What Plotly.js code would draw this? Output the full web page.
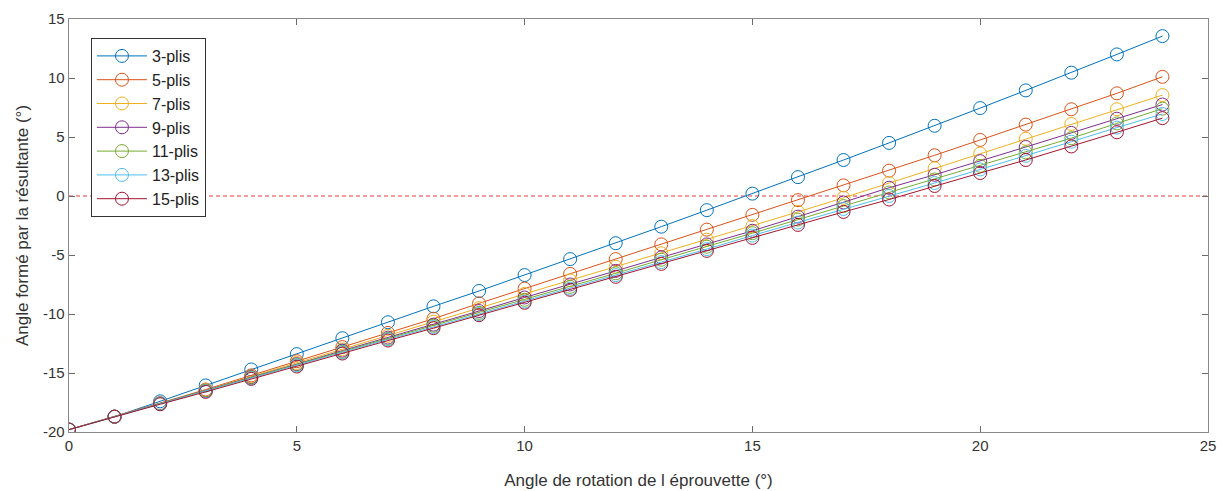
<!DOCTYPE html>
<html>
<head>
<meta charset="utf-8">
<script src="https://cdn.plot.ly/plotly-3.0.1.min.js"></script>
<style>html,body{margin:0;padding:0;background:#fff;}#chart{width:1228px;height:491px;}</style>
</head>
<body>
<div id="chart"></div>
<script>
const xAngles = [0,1,2,3,4,5,6,7,8,9,10,11,12,13,14,15,16,17,18,19,20,21,22,23,24];
const seriesNames = ['3-plis','5-plis','7-plis','9-plis','11-plis','13-plis','15-plis'];
const plis3  = [-19.8,-18.7,-17.4,-16.05,-14.7,-13.4,-12.05,-10.7,-9.35,-8.05,-6.7,-5.35,-4.0,-2.6,-1.2,0.2,1.6,3.05,4.5,5.95,7.45,8.95,10.45,12.0,13.55];
const plis5  = [-19.8,-18.7,-17.55,-16.4,-15.2,-14.0,-12.8,-11.6,-10.4,-9.1,-7.85,-6.6,-5.35,-4.1,-2.85,-1.6,-0.35,0.9,2.15,3.45,4.75,6.05,7.35,8.7,10.1];
const plis7  = [-19.8,-18.7,-17.6,-16.45,-15.3,-14.15,-13.0,-11.85,-10.65,-9.5,-8.3,-7.15,-6.0,-4.85,-3.7,-2.55,-1.35,-0.15,1.1,2.35,3.6,4.85,6.1,7.35,8.55];
const plis9  = [-19.8,-18.7,-17.6,-16.5,-15.35,-14.25,-13.1,-12.0,-10.9,-9.75,-8.6,-7.5,-6.35,-5.2,-4.1,-2.95,-1.75,-0.55,0.7,1.8,2.95,4.15,5.35,6.55,7.75];
const plis11 = [-19.8,-18.7,-17.6,-16.5,-15.4,-14.3,-13.2,-12.1,-11.0,-9.9,-8.8,-7.7,-6.55,-5.4,-4.3,-3.15,-2.0,-0.85,0.3,1.4,2.55,3.7,4.9,6.15,7.4];
const plis13 = [-19.8,-18.7,-17.6,-16.55,-15.45,-14.35,-13.25,-12.15,-11.1,-10.0,-8.95,-7.85,-6.7,-5.6,-4.5,-3.35,-2.25,-1.1,0.0,1.1,2.25,3.4,4.6,5.8,6.95];
const plis15 = [-19.8,-18.7,-17.65,-16.6,-15.5,-14.45,-13.35,-12.25,-11.2,-10.1,-9.05,-7.95,-6.85,-5.75,-4.65,-3.55,-2.45,-1.35,-0.3,0.85,1.95,3.05,4.2,5.4,6.6];
const seriesValues = [plis3, plis5, plis7, plis9, plis11, plis13, plis15];
const colors = ['#0072BD','#D95319','#EDB120','#7E2F8E','#77AC30','#4DBEEE','#A2142F'];
const xTickVals = [0,5,10,15,20,25];
const xTickText = ['0','5','10','15','20','25'];
const yTickVals = [-20,-15,-10,-5,0,5,10,15];
const yTickText = ['-20','-15','-10','-5','0','5','10','15'];
const refLineX = [0,25];
const refLineY = [0,0];

const traces = [{
  x: refLineX, y: refLineY, mode: 'lines', showlegend: false, hoverinfo: 'skip',
  line: {color: '#e8383b', width: 1, dash: '4px,3px'}
}];
seriesNames.forEach((name, i) => {
  traces.push({
    x: xAngles, y: seriesValues[i], name: name, legendgroup: 'g' + i,
    mode: 'lines+markers', type: 'scatter',
    line: {color: colors[i], width: 1},
    marker: {symbol: 'circle-open', size: 13, color: colors[i], line: {width: 1, color: colors[i]}}
  });
});

const axisCommon = {
  showline: true, mirror: 'ticks', linecolor: '#8a8a8a', linewidth: 1.3,
  ticks: 'inside', ticklen: 6, tickcolor: '#6a6a6a', tickwidth: 1,
  showgrid: false, zeroline: false,
  tickfont: {family: 'Liberation Sans, Arial, sans-serif', size: 15, color: '#333'}
};

const layout = {
  width: 1228, height: 491,
  margin: {l: 69, r: 20, t: 19, b: 59},
  paper_bgcolor: '#fff', plot_bgcolor: '#fff',
  font: {family: 'Liberation Sans, Arial, sans-serif', color: '#333'},
  xaxis: Object.assign({}, axisCommon, {
    range: [0, 25], tickvals: xTickVals, ticktext: xTickText,
    title: {text: 'Angle de rotation de l éprouvette (°)', standoff: 20,
            font: {family: 'Liberation Sans, Arial, sans-serif', size: 17, color: '#333'}}
  }),
  yaxis: Object.assign({}, axisCommon, {
    range: [-20, 15], tickvals: yTickVals, ticktext: yTickText,
    title: {text: 'Angle formé par la résultante (°)', standoff: 10,
            font: {family: 'Liberation Sans, Arial, sans-serif', size: 17, color: '#333'}}
  }),
  showlegend: true,
  legend: {
    x: 0.0193, y: 0.954, xanchor: 'left', yanchor: 'top',
    bgcolor: '#fff', bordercolor: '#333', borderwidth: 1,
    font: {family: 'Liberation Sans, Arial, sans-serif', size: 16, color: '#222'},
    tracegroupgap: 0, itemwidth: 50
  }
};

Plotly.newPlot('chart', traces, layout, {staticPlot: true, displayModeBar: false});
</script>
</body>
</html>
